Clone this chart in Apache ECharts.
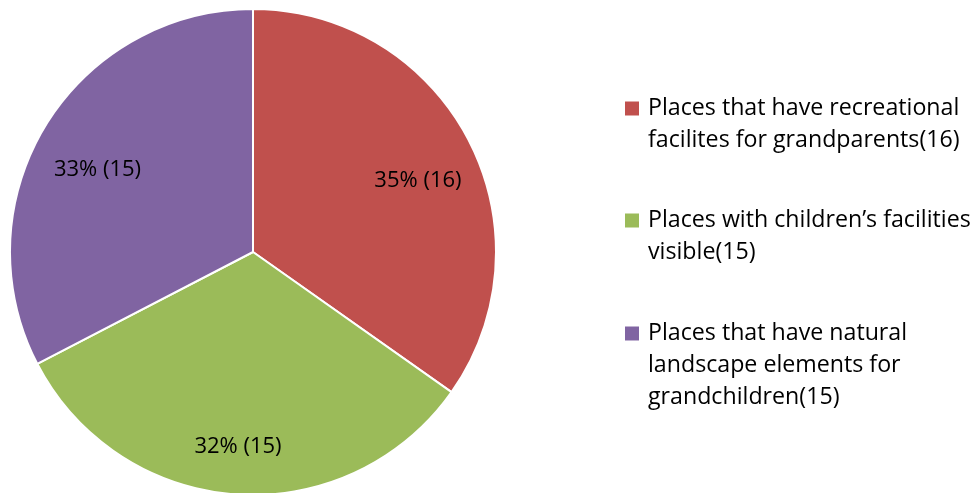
<!DOCTYPE html>
<html>
<head>
<meta charset="utf-8">
<script src="https://cdn.jsdelivr.net/npm/echarts@6/dist/echarts.min.js"></script>
<style>html,body{margin:0;padding:0;background:#fff;}#c{width:977px;height:493px;}</style>
</head>
<body>
<div id="c"></div>
<script>
// ---- data ----
const categories = [
  'Places that have recreational facilites for grandparents(16)',
  'Places with children\u2019s facilities visible(15)',
  'Places that have natural landscape elements for grandchildren(15)'
];
const legendLines = [
  ['Places that have recreational', 'facilites for grandparents(16)'],
  ['Places with children\u2019s facilities', 'visible(15)'],
  ['Places that have natural', 'landscape elements for', 'grandchildren(15)']
];
const values = [16, 15, 15];
const percentLabels = [35, 32, 33];
const colors = ['#C0504D', '#9BBB59', '#8064A2'];

// ---- layout ----
const CX = 253, CY = 252, R = 243;
const FONT = '"Open Sans", "Liberation Sans", sans-serif';
const LH = 32;
const legendLine1Y = [113, 225, 338];
// label placement (polar offsets relative to centre: angle clockwise from top in degrees, distance px)
const labelPolar = [[66.7, 179.6], [184.4, 195.6], [297.8, 175.8]];

const chart = echarts.init(document.getElementById('c'), null, {renderer: 'canvas'});

const legends = categories.map((name, i) => {
  const n = legendLines[i].length;
  const lines = [];
  for (let k = 0; k < n - 1; k++) lines.push('{t| }');
  legendLines[i].forEach(l => lines.push('{t|' + l + '}'));
  return {
    show: true,
    orient: 'vertical',
    left: 623,
    top: legendLine1Y[i] - (n - 1) * LH - LH / 2,
    padding: 0,
    itemWidth: 16,
    itemHeight: 16,
    icon: 'rect',
    selectedMode: false,
    data: [name],
    formatter: () => lines.join('\n'),
    textStyle: {
      rich: {
        t: {
          fontFamily: FONT,
          fontSize: 23.2,
          color: '#000',
          lineHeight: LH,
          padding: [0, 0, 0, 3]
        }
      }
    }
  };
});

chart.setOption({
  backgroundColor: '#fff',
  animation: false,
  color: colors,
  legend: legends,
  series: [{
    type: 'pie',
    center: [CX, CY],
    radius: R,
    startAngle: 90,
    clockwise: true,
    avoidLabelOverlap: false,
    itemStyle: {borderColor: '#fff', borderWidth: 2},
    emphasis: {disabled: true},
    label: {
      show: true,
      position: 'inside',
      fontFamily: FONT,
      fontSize: 22,
      color: '#000',
      formatter: p => percentLabels[p.dataIndex] + '% (' + p.value + ')'
    },
    labelLine: {show: false},
    labelLayout: p => {
      const a = labelPolar[p.dataIndex][0] * Math.PI / 180;
      const d = labelPolar[p.dataIndex][1];
      return {
        x: CX + d * Math.sin(a),
        y: CY - d * Math.cos(a),
        align: 'center',
        verticalAlign: 'middle'
      };
    },
    data: categories.map((n, i) => ({name: n, value: values[i]}))
  }]
});
</script>
</body>
</html>
